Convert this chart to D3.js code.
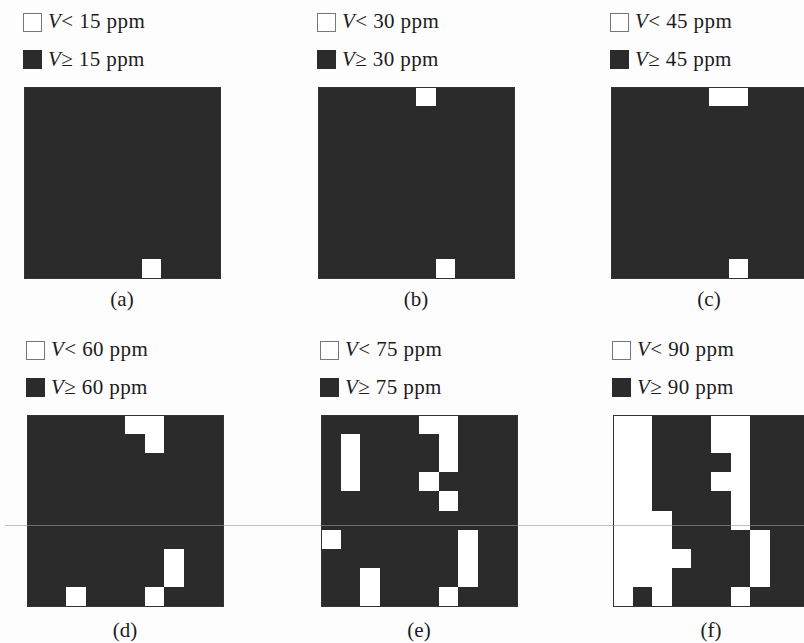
<!DOCTYPE html>
<html>
<head>
<meta charset="utf-8">
<script src="https://cdn.jsdelivr.net/npm/d3@7"></script>
<style>
  html, body { margin: 0; padding: 0; background: #fdfdfd; }
  svg { display: block; }
</style>
</head>
<body>
<svg id="chart" width="804" height="643"></svg>
<script>
// ---- data ----
const panelLabels = ["(a)", "(b)", "(c)", "(d)", "(e)", "(f)"];
const thresholds = [15, 30, 45, 60, 75, 90];
// 10x10 grids, "1" = V below threshold (white), "0" = V at/above threshold (dark)
const gridA = ["0000000000","0000000000","0000000000","0000000000","0000000000",
               "0000000000","0000000000","0000000000","0000000000","0000001000"];
const gridB = ["0000010000","0000000000","0000000000","0000000000","0000000000",
               "0000000000","0000000000","0000000000","0000000000","0000001000"];
const gridC = ["0000011000","0000000000","0000000000","0000000000","0000000000",
               "0000000000","0000000000","0000000000","0000000000","0000001000"];
const gridD = ["0000011000","0000001000","0000000000","0000000000","0000000000",
               "0000000000","0000000000","0000000100","0000000100","0010001000"];
const gridE = ["0000011000","0100001000","0100001000","0100010000","0000001000",
               "0000000000","1000000100","0000000100","0010000100","0010001000"];
const gridF = ["1100011000","1100011000","1100001000","1100011000","1100001000",
               "1110001000","1110000100","1111000100","1110000100","1010001000"];
const grids = [gridA, gridB, gridC, gridD, gridE, gridF];

// ---- layout ----
const W = 804, H = 643;
const panelW = 196, panelH = 191;
const originX = [[24, 318, 611], [27, 321, 613]];
const originY = [87, 415];
const captionDy = [28, 31];
const dark = "#2b2b2b";
const fontFam = "'Liberation Serif', 'DejaVu Serif', serif";

const svg = d3.select("#chart");
svg.append("rect").attr("width", W).attr("height", H).attr("fill", "#fdfdfd");

const xs = d3.scaleBand().domain(d3.range(10)).range([0, panelW]);
const ys = d3.scaleBand().domain(d3.range(10)).range([0, panelH]);

grids.forEach((grid, i) => {
  const r = Math.floor(i / 3), c = i % 3;
  const ox = originX[r][c], oy = originY[r];
  const g = svg.append("g").attr("transform", `translate(${ox},${oy})`);

  const cells = [];
  grid.forEach((row, ri) => row.split("").forEach((v, ci) => cells.push({ri, ci, v: +v})));

  // sort so white cells are drawn last (on top)
  cells.sort((a, b) => a.v - b.v);

  g.selectAll("rect.cell").data(cells).join("rect")
    .attr("class", "cell")
    .attr("shape-rendering", "crispEdges")
    .attr("x", d => xs(d.ci))
    .attr("y", d => ys(d.ri))
    .attr("width", d => d.v ? xs.bandwidth() : xs.bandwidth() + 1)
    .attr("height", d => d.v ? ys.bandwidth() : ys.bandwidth() + 1)
    .attr("fill", d => d.v ? "#ffffff" : dark);

  g.append("rect").attr("x", 0).attr("y", 0)
    .attr("width", panelW).attr("height", panelH)
    .attr("fill", "none").attr("stroke", "#333").attr("stroke-width", 1)
    .attr("shape-rendering", "crispEdges");

  // legend
  const lg = g.append("g").attr("transform", "translate(-1,-74)");
  lg.append("rect").attr("x", 0.5).attr("y", 0.5).attr("width", 18).attr("height", 18)
    .attr("fill", "#fff").attr("stroke", "#777").attr("stroke-width", 1);
  lg.append("rect").attr("x", 0).attr("y", 37).attr("width", 19).attr("height", 19)
    .attr("fill", dark);

  const t1 = lg.append("text").attr("x", 25).attr("y", 15)
    .attr("font-family", fontFam).attr("font-size", 21).attr("letter-spacing", 0.4)
    .attr("fill", "#1c1c1c");
  t1.append("tspan").attr("font-style", "italic").text("V");
  t1.append("tspan").text("< " + thresholds[i] + " ppm");

  const t2 = lg.append("text").attr("x", 25).attr("y", 53)
    .attr("font-family", fontFam).attr("font-size", 21).attr("letter-spacing", 0.4)
    .attr("fill", "#1c1c1c");
  t2.append("tspan").attr("font-style", "italic").text("V");
  t2.append("tspan").text("\u2265 " + thresholds[i] + " ppm");

  // caption
  g.append("text").attr("x", panelW / 2).attr("y", panelH + captionDy[r])
    .attr("text-anchor", "middle")
    .attr("font-family", fontFam).attr("font-size", 21).attr("fill", "#1c1c1c")
    .text(panelLabels[i]);
});

// faint scan line across the figure
svg.append("line").attr("x1", 5).attr("x2", W).attr("y1", 525.5).attr("y2", 525.5)
  .attr("stroke", "#9a9a9a").attr("stroke-width", 1).attr("opacity", 0.6);
</script>
</body>
</html>
